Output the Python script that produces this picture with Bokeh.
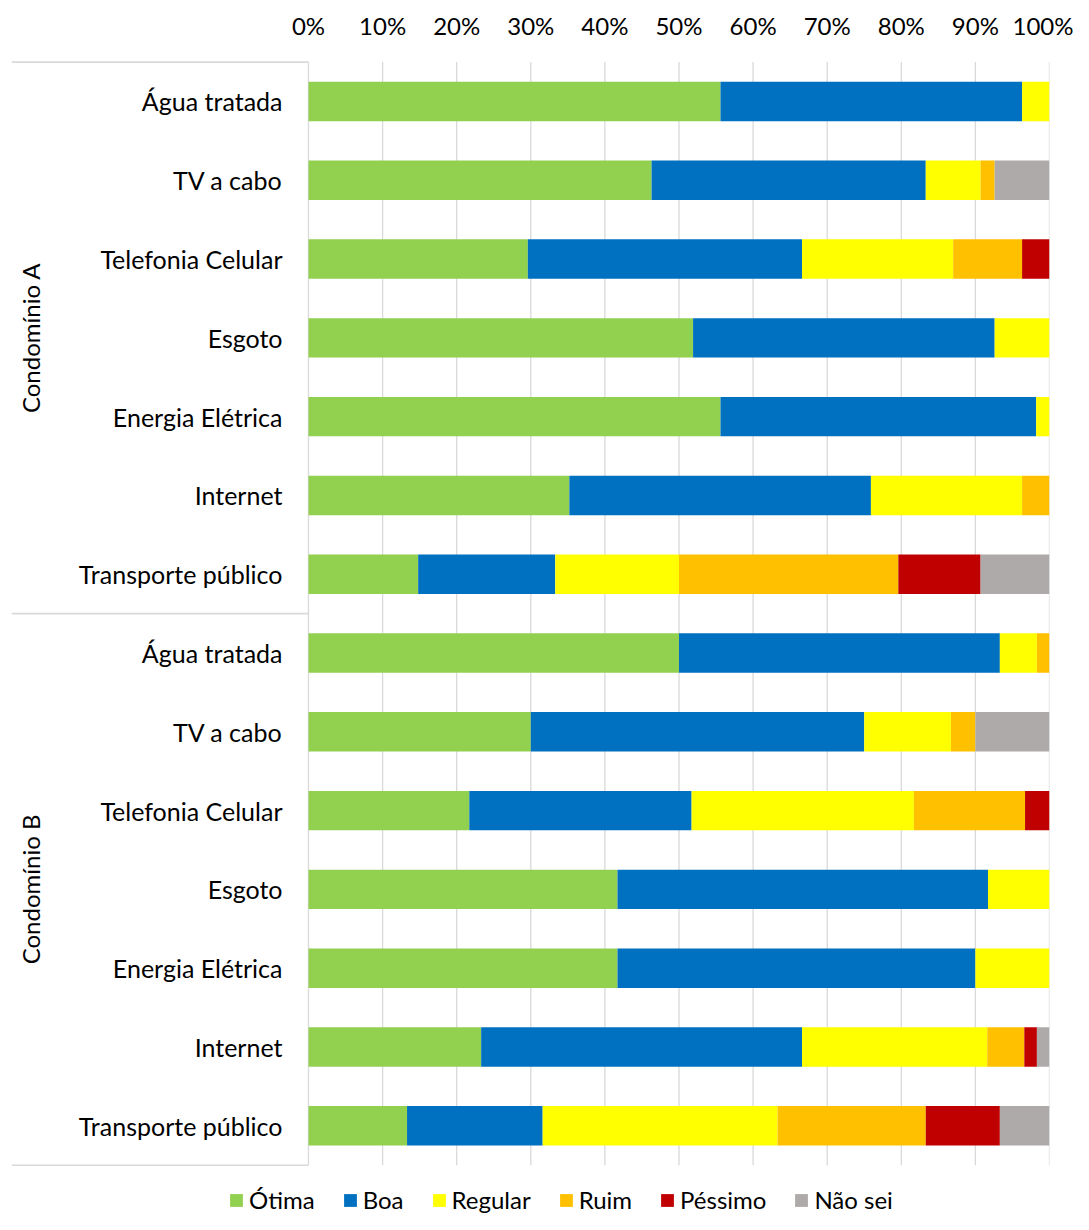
from bokeh.plotting import figure
from bokeh.models import ColumnDataSource, Range1d, FixedTicker, Legend
from bokeh.core.properties import value
from bokeh.embed import file_html
from bokeh.resources import INLINE

# ---------------- data ----------------
categories = ["Água tratada", "TV a cabo", "Telefonia Celular", "Esgoto",
              "Energia Elétrica", "Internet", "Transporte público"]
groups = ["Condomínio A", "Condomínio B"]
series = ["Ótima", "Boa", "Regular", "Ruim", "Péssimo", "Não sei"]
colors = ["#92D050", "#0070C0", "#FFFF00", "#FFC000", "#C00000", "#AEAAAA"]

# rows: Condomínio A (7 services) then Condomínio B (7 services), in %
otima   = [55.6, 46.3, 29.6, 51.9, 55.6, 35.2, 14.8, 50.0, 30.0, 21.7, 41.7, 41.7, 23.3, 13.3]
boa     = [40.7, 37.0, 37.0, 40.7, 42.6, 40.7, 18.5, 43.3, 45.0, 30.0, 50.0, 48.3, 43.3, 18.3]
regular = [3.7, 7.4, 20.4, 7.4, 1.8, 20.4, 16.7, 5.0, 11.7, 30.0, 8.3, 10.0, 25.0, 31.7]
ruim    = [0.0, 1.9, 9.3, 0.0, 0.0, 3.7, 29.6, 1.7, 3.3, 15.0, 0.0, 0.0, 5.0, 20.0]
pessimo = [0.0, 0.0, 3.7, 0.0, 0.0, 0.0, 11.1, 0.0, 0.0, 3.3, 0.0, 0.0, 1.7, 10.0]
nao_sei = [0.0, 7.4, 0.0, 0.0, 0.0, 0.0, 9.3, 0.0, 10.0, 0.0, 0.0, 0.0, 1.7, 6.7]

tick_values = [0, 10, 20, 30, 40, 50, 60, 70, 80, 90, 100]
tick_labels = ["0%", "10%", "20%", "30%", "40%", "50%", "60%", "70%", "80%", "90%", "100%"]

# ---------------- layout ----------------
FONT = "Lato"
n_rows = len(categories) * len(groups)
rows = list(range(n_rows))
row_labels = categories * len(groups)

src = ColumnDataSource(dict(
    y=rows, label=row_labels,
    otima=otima, boa=boa, regular=regular, ruim=ruim, pessimo=pessimo, nao_sei=nao_sei,
))
stackers = ["otima", "boa", "regular", "ruim", "pessimo", "nao_sei"]

x_left = -40.08
p = figure(width=1073, height=1214, output_backend="svg", toolbar_location=None,
           x_range=Range1d(x_left, 100), y_range=Range1d(14.126, -0.52),
           x_axis_location="above", y_axis_location=None,
           min_border_left=11, min_border_right=24, min_border_top=60, min_border_bottom=0)
p.outline_line_color = None
p.xgrid.grid_line_color = None
p.ygrid.grid_line_color = None
p.background_fill_color = "white"
p.border_fill_color = "white"

# top axis
ax = p.xaxis[0]
ax.ticker = FixedTicker(ticks=tick_values)
ax.major_label_overrides = {v: l for v, l in zip(tick_values, tick_labels)}
ax.axis_line_color = None
ax.major_tick_line_color = None
ax.minor_tick_line_color = None
ax.major_label_standoff = 15
ax.major_label_text_font = FONT
ax.major_label_text_font_size = "24px"
ax.major_label_text_color = "#000000"

# gridlines (only over the bar area)
top_edge = -0.5
bottom_edge = n_rows - 0.5
p.segment(x0=tick_values, x1=tick_values, y0=[top_edge] * len(tick_values),
          y1=[bottom_edge] * len(tick_values), line_color="#D9D9D9", line_width=1.3)

# group separators
sep_y = [-0.5, len(categories) - 0.5, n_rows - 0.5]
p.segment(x0=[x_left] * 3, x1=[0] * 3, y0=sep_y, y1=sep_y,
          line_color="#D9D9D9", line_width=1.6)

# bars
renderers = p.hbar_stack(stackers, y="y", height=0.5, source=src,
                         fill_color=colors, line_color=None)

# category labels
p.text(x=-3.51, y="y", text="label", source=src,
       text_font=value(FONT), text_font_size="25px", text_color="#000000",
       text_align="right", text_baseline="middle")

# group labels
gsrc = ColumnDataSource(dict(
    x=[-37.5] * len(groups),
    y=[(len(categories) - 1) / 2 + i * len(categories) for i in range(len(groups))],
    t=groups))
p.text(x="x", y="y", text="t", source=gsrc, angle=1.5707963,
       text_font=value(FONT), text_font_size="24px", text_color="#000000",
       text_align="center", text_baseline="middle")

# legend
legend = Legend(items=[(s, [r]) for s, r in zip(series, renderers)],
                orientation="horizontal", location=(217, 0),
                glyph_width=16, glyph_height=16, label_standoff=5, spacing=27,
                padding=0, margin=0, border_line_color=None,
                background_fill_alpha=0,
                label_text_font=FONT, label_text_font_size="24px",
                label_text_color="#000000")
p.add_layout(legend, "center")

open("out.html", "w").write(file_html(p, INLINE))
